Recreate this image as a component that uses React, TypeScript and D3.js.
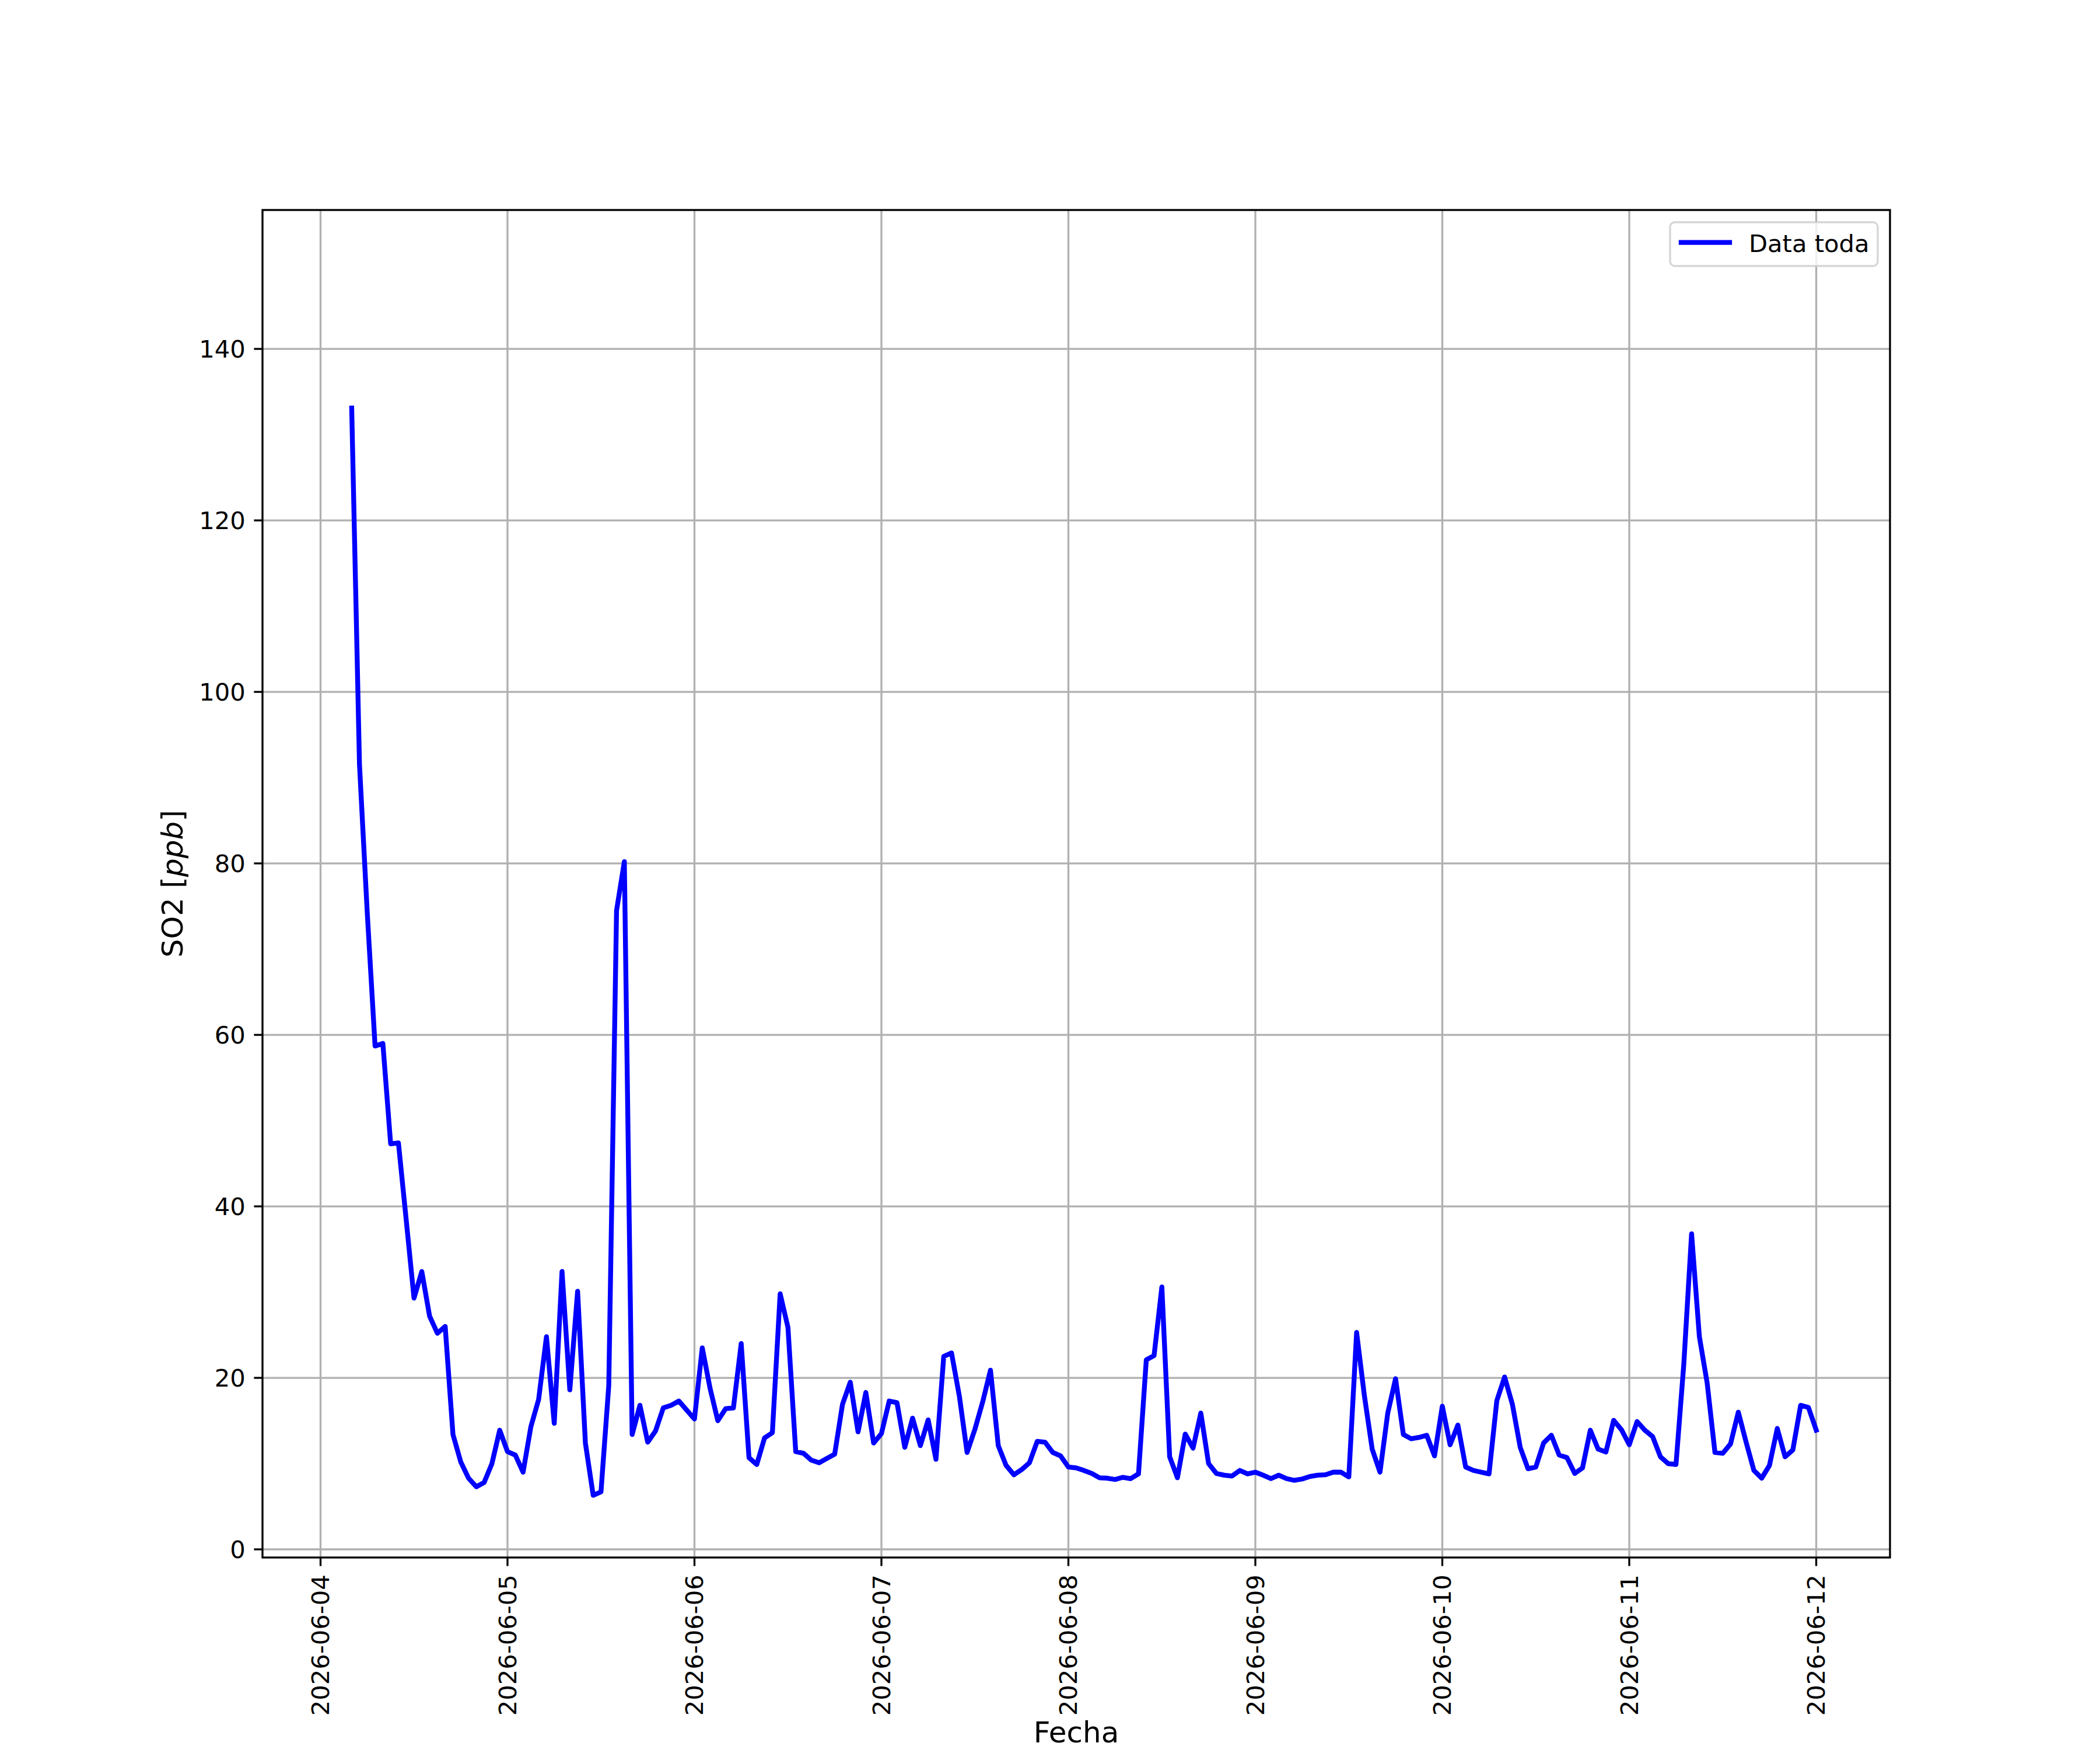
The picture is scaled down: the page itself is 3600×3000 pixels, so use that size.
import React from "react";
import * as d3 from "d3";

// hourly SO2 readings, first one at 2026-06-04 04:00
const START = Date.UTC(2026, 5, 4, 4);

const jun04 = [133.1, 91.5, 74.2, 58.7, 59.0, 47.3, 47.4, 38.4, 29.3, 32.4, 27.2, 25.2, 26.0, 13.4, 10.2, 8.3, 7.3, 7.8, 10.0, 13.9];
const jun05 = [11.4, 11.0, 9.0, 14.3, 17.5, 24.8, 14.7, 32.4, 18.6, 30.1, 12.4, 6.3, 6.7, 19.1, 74.5, 80.2, 13.4, 16.8, 12.5, 13.8, 16.5, 16.8, 17.3, 16.25];
const jun06 = [15.2, 23.5, 18.8, 15.0, 16.4, 16.5, 24.0, 10.7, 9.9, 13.0, 13.6, 29.8, 25.9, 11.4, 11.2, 10.4, 10.1, 10.6, 11.1, 16.9, 19.5, 13.7, 18.3, 12.4];
const jun07 = [13.5, 17.3, 17.1, 11.9, 15.3, 12.1, 15.1, 10.5, 22.5, 22.9, 17.9, 11.3, 14.0, 17.2, 20.9, 12.1, 9.8, 8.7, 9.3, 10.1, 12.6, 12.5, 11.3, 10.9];
const jun08 = [9.6, 9.5, 9.2, 8.85, 8.35, 8.3, 8.15, 8.4, 8.25, 8.8, 22.1, 22.6, 30.6, 10.8, 8.35, 13.45, 11.8, 15.9, 10.0, 8.85, 8.65, 8.55, 9.2, 8.8];
const jun09 = [9.0, 8.65, 8.25, 8.65, 8.25, 8.05, 8.2, 8.5, 8.65, 8.7, 9.0, 9.0, 8.45, 25.3, 17.9, 11.7, 9.0, 15.9, 19.9, 13.4, 12.9, 13.05, 13.3, 10.9];
const jun10 = [16.7, 12.2, 14.5, 9.6, 9.2, 9.0, 8.8, 17.35, 20.1, 16.9, 11.9, 9.4, 9.6, 12.4, 13.3, 11.0, 10.7, 8.85, 9.5, 13.9, 11.7, 11.35, 15.05, 13.95];
const jun11 = [12.2, 14.9, 13.9, 13.15, 10.8, 10.0, 9.9, 21.6, 36.8, 24.8, 19.4, 11.3, 11.2, 12.3, 16.0, 12.5, 9.2, 8.3, 9.8, 14.1, 10.8, 11.6, 16.8, 16.55];
const jun12 = [13.9];

const yTicks = [0, 20, 40, 60, 80, 100, 120, 140];
const xTickDays = d3.utcDay.range(new Date(Date.UTC(2026, 5, 4)), new Date(Date.UTC(2026, 5, 12, 1)));

const W = 3600;
const H = 3000;
const m = { left: 450, right: 3240, top: 360, bottom: 2670 };
const FONT = "DejaVu Sans, sans-serif";
const fs = 41.67;
const HOUR = 3600 * 1000;

export default function App() {
  const values = [...jun04, ...jun05, ...jun06, ...jun07, ...jun08, ...jun09, ...jun10, ...jun11, ...jun12];
  const data = values.map((v, i) => ({ t: new Date(START + i * HOUR), v }));

  const x = d3
    .scaleUtc()
    .domain([new Date(Date.UTC(2026, 5, 4) - 7.45 * HOUR), new Date(Date.UTC(2026, 5, 12) + 9.47 * HOUR)])
    .range([m.left, m.right]);
  const y = d3.scaleLinear().domain([-0.95, 156.2]).range([m.bottom, m.top]);

  const line = d3
    .line<{ t: Date; v: number }>()
    .x(d => x(d.t))
    .y(d => y(d.v));

  const fmt = d3.utcFormat("%Y-%m-%d");
  const tickLen = 14.6;
  const grid = "#b0b0b0";

  // legend box
  const lgRight = 3219;
  const lgTop = 381;
  const lgLeft = 2863;
  const lgBottom = 456;

  return (
    <div style={{ position: "absolute", left: 0, top: 0 }}>
      <svg width={W} height={H} style={{ display: "block", background: "#fff" }} fontFamily={FONT}>
        <rect x={0} y={0} width={W} height={H} fill="#fff" />
        {/* grid */}
        {xTickDays.map(d => (
          <line key={"gx" + d.getTime()} x1={x(d)} x2={x(d)} y1={m.top} y2={m.bottom} stroke={grid} strokeWidth={3.33} />
        ))}
        {yTicks.map(t => (
          <line key={"gy" + t} x1={m.left} x2={m.right} y1={y(t)} y2={y(t)} stroke={grid} strokeWidth={3.33} />
        ))}

        <path d={line(data) || ""} fill="none" stroke="#0000ff" strokeWidth={8.33} strokeLinejoin="round" strokeLinecap="square" />

        {/* spines */}
        <rect x={m.left} y={m.top} width={m.right - m.left} height={m.bottom - m.top} fill="none" stroke="#000" strokeWidth={3.33} />

        {/* y ticks */}
        {yTicks.map(t => (
          <g key={"ty" + t}>
            <line x1={m.left - tickLen} x2={m.left} y1={y(t)} y2={y(t)} stroke="#000" strokeWidth={3.33} />
            <text x={m.left - tickLen - 14.6} y={y(t)} dy="0.35em" textAnchor="end" fontSize={fs}>
              {t}
            </text>
          </g>
        ))}

        {/* x ticks */}
        {xTickDays.map(d => (
          <g key={"tx" + d.getTime()}>
            <line x1={x(d)} x2={x(d)} y1={m.bottom} y2={m.bottom + tickLen} stroke="#000" strokeWidth={3.33} />
            <text
              transform={`translate(${x(d)},${m.bottom + tickLen + 14.6}) rotate(-90)`}
              dy="0.35em"
              textAnchor="end"
              fontSize={fs}
            >
              {fmt(d)}
            </text>
          </g>
        ))}

        {/* axis labels */}
        <text x={(m.left + m.right) / 2} y={2987} textAnchor="middle" fontSize={50}>
          Fecha
        </text>
        <text transform={`translate(313,${(m.top + m.bottom) / 2}) rotate(-90)`} textAnchor="middle" fontSize={50}>
          SO2 [<tspan fontStyle="italic">ppb</tspan>]
        </text>

        {/* legend */}
        <rect
          x={lgLeft}
          y={lgTop}
          width={lgRight - lgLeft}
          height={lgBottom - lgTop}
          rx={8}
          fill="#fff"
          fillOpacity={0.8}
          stroke="#cccccc"
          strokeOpacity={0.8}
          strokeWidth={3.33}
        />
        <line x1={2882} x2={2965} y1={415.7} y2={415.7} stroke="#0000ff" strokeWidth={8.33} strokeLinecap="square" />
        <text x={2998} y={431.5} fontSize={fs}>
          Data toda
        </text>
      </svg>
    </div>
  );
}
